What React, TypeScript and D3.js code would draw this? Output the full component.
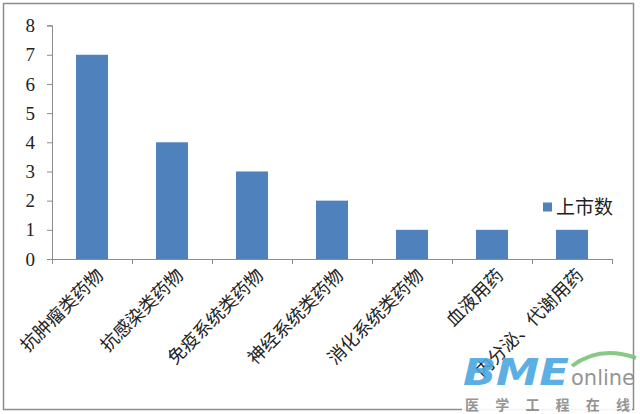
import React, { useEffect, useRef } from 'react';
import * as d3 from 'd3';

const categories = ['抗肿瘤类药物', '抗感染类药物', '免疫系统类药物', '神经系统类药物', '消化系统类药物', '血液用药', '内分泌、代谢用药'];
const listed = [7, 4, 3, 2, 1, 1, 1];
const yTicks = [0, 1, 2, 3, 4, 5, 6, 7, 8];
const seriesName = '上市数';

const W = 640;
const H = 414;

const App: React.FC = () => {
  const svgRef = useRef<SVGSVGElement>(null);

  useEffect(() => {
    if (!svgRef.current) return;
    const svg = d3.select(svgRef.current);
    svg.selectAll('*').remove();

    const left = 52, right = 612, top = 25.6, bottom = 259;

    // outer frame
    svg.append('rect')
      .attr('x', 3.5).attr('y', 3.5)
      .attr('width', 630).attr('height', 406)
      .attr('fill', '#fff').attr('stroke', '#8c8c8c').attr('stroke-width', 1.5);

    const x = d3.scaleBand<string>().domain(categories).range([left, right]).paddingInner(0.6).paddingOuter(0.3);
    const xb = d3.scaleBand<string>().domain(categories).range([left, right]);
    const y = d3.scaleLinear().domain([0, 8]).range([bottom, top]);

    // y axis
    const yAxis = svg.append('g')
      .attr('transform', `translate(${left},0)`)
      .call(d3.axisLeft(y).tickValues(yTicks).tickFormat(d3.format('d')).tickSize(5).tickPadding(12));
    yAxis.select('.domain').attr('stroke', '#8c8c8c').attr('d', `M-5,${top}H0.5V${bottom}`);
    yAxis.selectAll('.tick line').attr('stroke', '#8c8c8c');
    yAxis.selectAll('.tick text')
      .attr('fill', '#222')
      .style('font-family', '"Liberation Serif", serif')
      .style('font-size', '19px');

    // bars
    svg.append('g').selectAll('rect')
      .data(listed)
      .enter().append('rect')
      .attr('x', (_, i) => x(categories[i])!)
      .attr('y', d => y(d))
      .attr('width', x.bandwidth())
      .attr('height', d => y(0) - y(d))
      .attr('fill', '#4f81bd');

    // x axis line and ticks
    const xg = svg.append('g');
    xg.append('line')
      .attr('x1', left - 5).attr('x2', right)
      .attr('y1', bottom + 0.5).attr('y2', bottom + 0.5)
      .attr('stroke', '#8c8c8c');
    const bounds = categories.map(c => xb(c)!).concat([right]);
    xg.selectAll('line.t')
      .data(bounds)
      .enter().append('line')
      .attr('class', 't')
      .attr('x1', d => d + 0.5).attr('x2', d => d + 0.5)
      .attr('y1', bottom).attr('y2', bottom + 5)
      .attr('stroke', '#8c8c8c');

    // rotated category labels
    svg.append('g').selectAll('text')
      .data(categories)
      .enter().append('text')
      .attr('transform', c => `translate(${xb(c)! + xb.bandwidth() / 2 + 8},${bottom + 13}) rotate(-45)`)
      .attr('text-anchor', 'end')
      .attr('dy', '0.35em')
      .style('font-family', '"Noto Sans CJK SC", sans-serif')
      .style('font-size', '18px')
      .attr('fill', '#222')
      .text(c => c);

    // legend
    const lg = svg.append('g').attr('transform', 'translate(543,207)');
    lg.append('rect').attr('x', 0).attr('y', -4.5).attr('width', 9).attr('height', 9).attr('fill', '#4f81bd');
    lg.append('text')
      .attr('x', 13).attr('y', 0).attr('dy', '0.35em')
      .style('font-family', '"Noto Sans CJK SC", sans-serif')
      .style('font-size', '19px')
      .attr('fill', '#222')
      .text(seriesName);

    // watermark
    const wm = svg.append('g').attr('opacity', 0.9);
    wm.append('path')
      .attr('d', 'M572,366 Q600,345 636,358')
      .attr('fill', 'none').attr('stroke', '#7cc47a').attr('stroke-width', 4);
    wm.append('text')
      .attr('x', 463).attr('y', 385)
      .style('font-family', '"DejaVu Sans", sans-serif')
      .style('font-weight', 'bold').style('font-style', 'italic')
      .style('font-size', '38px')
      .attr('fill', '#4aa7e0')
      .attr('textLength', 106).attr('lengthAdjust', 'spacingAndGlyphs')
      .text('BME');
    wm.append('text')
      .attr('x', 571).attr('y', 385)
      .style('font-family', '"DejaVu Sans", sans-serif')
      .style('font-size', '22px')
      .attr('fill', '#8a8a8a')
      .attr('textLength', 64).attr('lengthAdjust', 'spacingAndGlyphs')
      .text('online');
    wm.append('rect').attr('x', 462).attr('y', 396).attr('width', 170).attr('height', 16).attr('fill', '#fff');
    wm.append('text')
      .attr('x', 465).attr('y', 410)
      .style('font-family', '"Noto Sans CJK SC", sans-serif')
      .style('font-weight', 'bold')
      .style('font-size', '14px')
      .attr('fill', '#8a8a8a')
      .attr('textLength', 165).attr('lengthAdjust', 'spacing')
      .text('医学工程在线');
  }, []);

  return (
    <svg
      ref={svgRef}
      width={W}
      height={H}
      style={{ position: 'absolute', left: 0, top: 0, background: '#fff' }}
    />
  );
};

export default App;
